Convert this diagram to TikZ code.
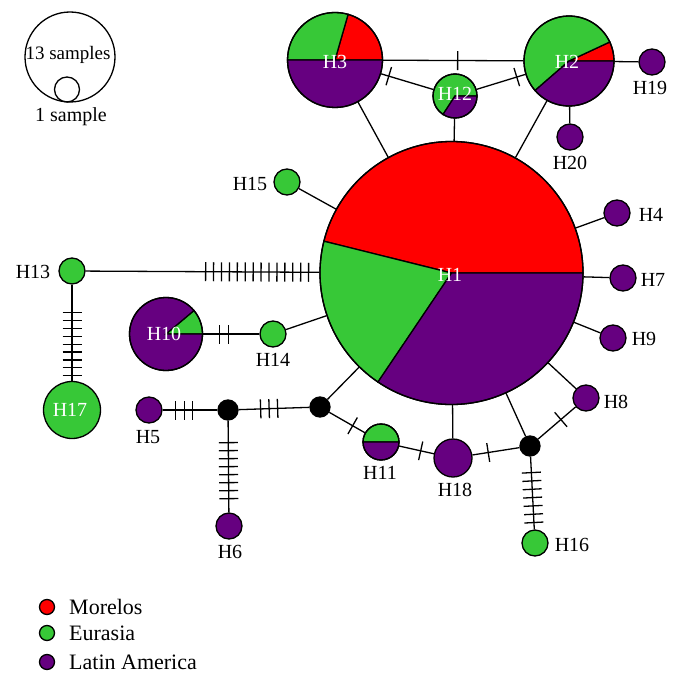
\documentclass[tikz,border=0pt]{standalone}
\usepackage{fontspec}
\setmainfont{Liberation Serif}
\usetikzlibrary{decorations.markings,calc}
\definecolor{cR}{RGB}{255,0,0}
\definecolor{cG}{RGB}{55,200,55}
\definecolor{cP}{RGB}{102,0,128}
\newcommand\myslice[5]{\filldraw[fill=#5,draw=black,line width=1.3pt] (#1) -- ++(#3:#2pt) arc[start angle=#3,end angle=#4,radius=#2pt] -- cycle;}
\begin{document}
\begin{tikzpicture}[x=1pt,y=1pt,
  hap/.style={circle,draw=black,line width=1.3pt,inner sep=0pt,minimum size=#1},
  hap/.default=26pt,
  conn/.style={line width=1.3pt},
  lab/.style={font=\fontsize{20}{24}\selectfont,inner sep=0pt},
  wlab/.style={lab,text=white},
  tks/.style n args={3}{postaction={decorate,decoration={markings,mark=between positions #1 and #2 step #3 with {\draw[line width=1.3pt] (0,-9.5pt) -- (0,9.5pt);}}}},
  tk/.style={postaction={decorate,decoration={markings,mark=at position #1 with {\draw[line width=1.3pt] (0,-9.5pt) -- (0,9.5pt);}}}}
]
\useasboundingbox (0,0) rectangle (683,-685);

% pie centres
\coordinate (c1) at (451.5,-273);
\coordinate (c3) at (335,-60);
\coordinate (c2) at (569,-61);
\coordinate (c12) at (455,-96);
\coordinate (c10) at (166,-334);
\coordinate (c11) at (381,-442);

% slices
\myslice{c1}{131.5}{0}{166}{cR}
\myslice{c1}{131.5}{166}{236}{cG}
\myslice{c1}{131.5}{236}{360}{cP}
\myslice{c3}{47.5}{0}{74}{cR}
\myslice{c3}{47.5}{74}{180}{cG}
\myslice{c3}{47.5}{180}{360}{cP}
\myslice{c2}{45}{0}{25}{cR}
\myslice{c2}{45}{25}{221}{cG}
\myslice{c2}{45}{221}{360}{cP}
\myslice{c12}{22}{0}{237}{cG}
\myslice{c12}{22}{237}{360}{cP}
\myslice{c10}{36.5}{0}{40}{cG}
\myslice{c10}{36.5}{40}{360}{cP}
\myslice{c11}{18}{0}{180}{cG}
\myslice{c11}{18}{180}{360}{cP}

% haplotype nodes
\node[hap=263pt] (h1) at (c1) {};
\node[hap=95pt] (h3) at (c3) {};
\node[hap=90pt] (h2) at (c2) {};
\node[hap=44pt] (h12) at (c12) {};
\node[hap=73pt] (h10) at (c10) {};
\node[hap=36pt] (h11) at (c11) {};
\node[hap=57pt,fill=cG] (h17) at (72,-410) {};
\node[hap=38pt,fill=cP] (h18) at (453,-458) {};
\node[hap,fill=cP] (h19) at (652,-62) {};
\node[hap,fill=cP] (h20) at (570,-137) {};
\node[hap,fill=cG] (h15) at (287,-182) {};
\node[hap,fill=cP] (h4) at (617,-213) {};
\node[hap,fill=cP] (h7) at (623,-278) {};
\node[hap,fill=cP] (h9) at (613,-338) {};
\node[hap,fill=cP] (h8) at (586,-398) {};
\node[hap,fill=cG] (h13) at (72,-271) {};
\node[hap,fill=cG] (h14) at (273,-334) {};
\node[hap,fill=cP] (h5) at (149,-410) {};
\node[hap,fill=cP] (h6) at (229,-526) {};
\node[hap,fill=cG] (h16) at (535,-543) {};
\node[hap=20pt,fill=black] (n1) at (228,-410) {};
\node[hap=20pt,fill=black] (n2) at (320,-407) {};
\node[hap=20pt,fill=black] (n3) at (530,-446) {};

% labels
\node[wlab] (t1) at (450,-275) {H1};
\node[wlab] (t3) at (335,-62) {H3};
\node[wlab] (t2) at (567,-62) {H2};
\node[wlab] (t12) at (455,-94) {H12};
\node[wlab] (t10) at (164,-334) {H10};
\node[wlab] (t17) at (70,-410) {H17};
\node[lab] (t19) at (650,-88) {H19};
\node[lab] (t20) at (570,-163) {H20};
\node[lab] (t15) at (250,-184) {H15};
\node[lab] (t4) at (651,-215) {H4};
\node[lab] (t7) at (653,-280) {H7};
\node[lab] (t9) at (644,-339) {H9};
\node[lab] (t8) at (616,-402) {H8};
\node[lab] (t13) at (33,-272) {H13};
\node[lab] (t14) at (273,-360) {H14};
\node[lab] (t5) at (148,-437) {H5};
\node[lab] (t6) at (230,-552) {H6};
\node[lab] (t11) at (380,-473) {H11};
\node[lab] (t18) at (455,-490) {H18};
\node[lab] (t16) at (572,-545) {H16};

% connectors
\draw[conn,tk=74.5pt] (h3) -- (h2);
\draw[conn,tk=8pt] (h3) -- (h12);
\draw[conn,tk=9pt] (h2) -- (h12);
\draw[conn] (h12) -- (h1);
\draw[conn] (h3) -- (h1);
\draw[conn] (h2) -- (h1);
\draw[conn] (h2) -- (h19);
\draw[conn] (h2) -- (h20);
\draw[conn] (h15) -- (h1);
\draw[conn] (h1) -- (h4);
\draw[conn] (h1) -- (h7);
\draw[conn] (h1) -- (h9);
\draw[conn] (h1) -- (h8);
\draw[conn] (h1) -- (h14);
\draw[conn] (h1) -- (n2);
\draw[conn] (h1) -- (h18);
\draw[conn] (h1) -- (n3);
\draw[conn,tks={120pt}{226pt}{7.92pt}] (h13) -- (h1);
\draw[conn,tks={28pt}{93pt}{7.875pt}] (h13) -- (h17);
\draw[conn,tks={16.5pt}{27pt}{9pt}] (h10) -- (h14);
\draw[conn,tks={13pt}{32pt}{8.5pt}] (h5) -- (n1);
\draw[conn,tks={22pt}{41pt}{8.5pt}] (n1) -- (n2);
\draw[conn,tks={22pt}{80pt}{8pt}] (n1) -- (h6);
\draw[conn,tk=27pt] (n2) -- (h11);
\draw[conn,tk=22pt] (h11) -- (h18);
\draw[conn,tk=16pt] (h18) -- (n3);
\draw[conn,tk=30pt] (n3) -- (h8);
\draw[conn,tks={16pt}{68pt}{8.33pt}] (n3) -- (h16);

% size legend
\node[circle,draw=black,line width=1.3pt,inner sep=0pt,minimum size=90pt] (big) at (70,-57) {};
\node[circle,draw=black,line width=1.3pt,inner sep=0pt,minimum size=25pt] (small) at (67,-89.5) {};
\node[font=\fontsize{19}{22}\selectfont,inner sep=0pt] (s13) at (68,-55) {13 samples};
\node[font=\fontsize{20}{22}\selectfont,inner sep=0pt] (s1) at (71,-117) {1 sample};

% colour legend
\node[hap=15pt,fill=cR] (d1) at (47,-607) {};
\node[hap=15pt,fill=cG] (d2) at (47,-633) {};
\node[hap=15pt,fill=cP] (d3) at (47,-662) {};
\node[font=\fontsize{22}{24}\selectfont,inner sep=0pt,anchor=west] (e1) at (69,-607) {Morelos};
\node[font=\fontsize{22}{24}\selectfont,inner sep=0pt,anchor=west] (e2) at (69,-633) {Eurasia};
\node[font=\fontsize{22}{24}\selectfont,inner sep=0pt,anchor=west] (e3) at (69,-662) {Latin America};
\end{tikzpicture}
\end{document}
